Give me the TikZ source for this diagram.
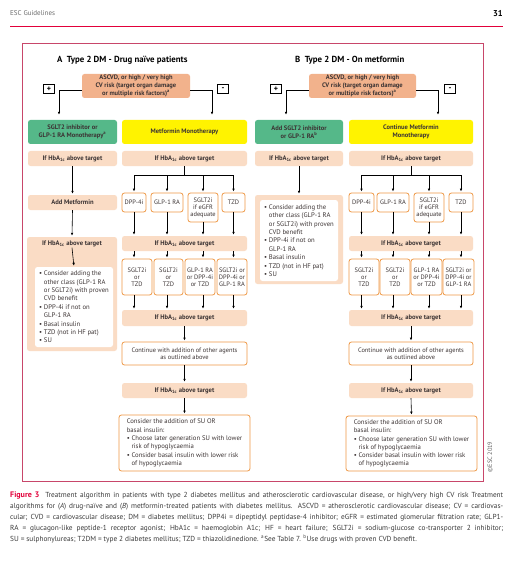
\documentclass[tikz,border=0pt]{standalone}
\usepackage{fontspec}
\setmainfont{PT Sans}
\usetikzlibrary{arrows.meta,calc}
\definecolor{peach}{HTML}{FADCC5}
\definecolor{salmon}{HTML}{F2B28C}
\definecolor{grn}{HTML}{55B889}
\definecolor{ylw}{HTML}{FFF300}
\definecolor{orng}{HTML}{EE9845}
\definecolor{frame}{HTML}{C8466A}
\definecolor{crim}{HTML}{E2003A}
\definecolor{txt}{HTML}{3C3434}
\definecolor{capt}{HTML}{3A3A3A}
\newcommand\placebox[7]{\node[#2, minimum width={(#5-#3)*1pt}, minimum height={(#6-#4)*1pt}] (#1) at ({(#3+#5)/2},{(#4+#6)/2}) {#7};}
\newcommand\hba{If HbA\textsubscript{1c} above target}
\newcommand\ind{\hphantom{\textbullet\ }}
\begin{document}
\begin{tikzpicture}[x=1pt,y=-1pt,
  base/.style={inner sep=0.5pt, align=center, text=txt, font=\fontsize{6.4}{7.3}\selectfont},
  hb/.style={base, fill=peach, rounded corners=2.5pt, font=\fontsize{6.6}{7.3}\selectfont\bfseries},
  asc/.style={base, fill=salmon, rounded corners=2.5pt, font=\fontsize{6.5}{7.8}\selectfont\bfseries},
  gbox/.style={base, fill=grn, rounded corners=2.5pt, font=\fontsize{6.5}{7.6}\selectfont\bfseries},
  ybox/.style={base, fill=ylw, rounded corners=2.5pt, font=\fontsize{6.5}{7.6}\selectfont\bfseries},
  obox/.style={base, draw=orng, line width=0.8pt, fill=white, rounded corners=2.5pt, font=\fontsize{6.4}{6.9}\selectfont},
  lst/.style={base, align=left, fill=white, rounded corners=2.5pt, font=\fontsize{6.7}{8.4}\selectfont},
  pm/.style={draw=black, line width=0.7pt, fill=white, inner sep=0pt, minimum width=11pt, minimum height=9.5pt, font=\fontsize{8}{8}\selectfont\bfseries},
  arr/.style={-{Latex[length=3pt,width=2.6pt]}, line width=0.6pt, shorten >=1pt},
  ln/.style={line width=0.6pt}
]
\useasboundingbox[fill=white] (0,0) rectangle (525,580);
% header
\node[anchor=west, text=gray!85!black, font=\fontsize{7}{7}\selectfont, inner sep=0pt] (hdr) at (10,13.5) {ESC Guidelines};
\node[anchor=east, font=\fontsize{8.5}{9}\selectfont\bfseries, inner sep=0pt] (pg) at (503,13.5) {31};
\draw[crim, line width=0.7pt] (hdr.west |- 0,26) -- (pg.east |- 0,26);
% frame
\draw[frame, line width=0.9pt] (22,43) rectangle (483,481);
\node[rotate=90, text=gray!80!black, font=\fontsize{6.3}{6}\selectfont, inner sep=0pt] (cpr) at (490,457) {©ESC 2019};
% titles
\node[anchor=west, inner sep=0pt, font=\fontsize{8.8}{9}\selectfont\bfseries, text=black] (tA) at (57,60) {A\ \ Type 2 DM - Drug naïve patients};
\node[anchor=west, inner sep=0pt, font=\fontsize{8.8}{9}\selectfont\bfseries, text=black] (tB) at (295,60) {B\ \ Type 2 DM - On metformin};

% ================= Panel A =================
\placebox{ascA}{asc}{82}{74}{190}{98}{ASCVD, or high / very high\\CV risk (target organ damage\\or multiple risk factors)\textsuperscript{a}}
\node[pm] (plA) at (49,89) {+};
\node[pm] (miA) at (223,89) {-};
\placebox{gA}{gbox}{28}{120}{117}{144}{SGLT2 inhibitor or\\GLP-1 RA Monotherapy\textsuperscript{a}}
\placebox{yA}{ybox}{122}{120}{247}{144}{Metformin Monotherapy}
\coordinate (pa) at (59,90);
\coordinate (ma) at (212,90);
\draw[arr, shorten >=5pt] (ascA.west |- pa) -- (pa) -- (pa |- gA.north);
\draw[arr, shorten >=5pt] (ascA.east |- ma) -- (ma) -- (ma |- yA.north);
\placebox{hA1}{hb}{28}{151}{117}{166}{\hba}
\placebox{hA2}{hb}{122}{151}{247}{166}{\hba}
\placebox{amA}{hb}{28}{195}{117}{210}{Add Metformin}
\draw[arr] (hA1.south) -- (amA.north);
% big left box A
\placebox{bigA}{hb}{27}{237}{117}{351}{}
\node[hb, fill=none] (bhA) at (72,244) {\hba};
\placebox{lsA}{lst}{35}{267}{113}{347}{\textbullet\ Consider adding the\\\ind other class (GLP-1 RA\\\ind or SGLT2i) with proven\\\ind CVD benefit\\\textbullet\ DPP-4i if not on\\\ind GLP-1 RA\\\textbullet\ Basal insulin\\\textbullet\ TZD (not in HF pat)\\\textbullet\ SU}
\draw[arr] (amA.south) -- (bigA.north);
\draw[arr] (bhA.south) -- (lsA.north);
% branch A
\placebox{dA}{obox}{122}{193}{146}{212}{DPP-4i}
\placebox{glA}{obox}{151}{193}{183}{212}{GLP-1 RA}
\placebox{sA}{obox}{188}{193}{218}{222}{SGLT2i\\if eGFR\\adequate}
\placebox{tA2}{obox}{222}{193}{245}{212}{TZD}
\coordinate (brA) at (184.5,175);
\draw[ln] (hA2.south) -- (brA);
\draw[ln] (brA -| dA.north) -- (brA -| tA2.north);
\foreach \n in {dA,glA,sA,tA2} \draw[arr] (brA -| \n.north) -- (\n.north);
\placebox{hA3}{hb}{122}{236}{247}{251}{\hba}
\foreach \n in {dA,glA,sA,tA2} \draw[arr] (\n.south) -- (\n.south |- hA3.north);
\placebox{rA1}{obox}{122}{259}{152}{295}{SGLT2i\\or\\TZD}
\placebox{rA2}{obox}{154}{259}{183}{295}{SGLT2i\\or\\TZD}
\placebox{rA3}{obox}{185}{259}{215}{295}{GLP-1 RA\\or DPP-4i\\or TZD}
\placebox{rA4}{obox}{217}{259}{247}{295}{SGLT2i or\\DPP-4i or\\GLP-1 RA}
\placebox{hA4}{hb}{122}{310}{247}{326}{\hba}
\foreach \n/\r in {dA/rA1,glA/rA2,sA/rA3,tA2/rA4} {
  \draw[arr] (hA3.south -| \n) -- (\r.north -| \n);
  \draw[arr] (\r.south -| \n) -- (hA4.north -| \n);
}
\placebox{cA}{obox}{122}{342}{247}{365}{Continue with addition of other agents\\as outlined above}
\placebox{hA5}{hb}{122}{383}{247}{398}{\hba}
\placebox{fA}{obox}{119}{415}{250}{471}{\fontsize{6.7}{8.3}\selectfont\begin{tabular}{@{}l@{}}Consider the addition of SU OR\\basal insulin:\\\textbullet\ Choose later generation SU with lower\\\ind risk of hypoglycaemia\\\textbullet\ Consider basal insulin with lower risk\\\ind of hypoglycaemia\end{tabular}}
\draw[arr] (hA4.south) -- (cA.north);
\draw[arr] (cA.south) -- (hA5.north);
\draw[arr] (hA5.south) -- (fA.north);

% ================= Panel B =================
\placebox{ascB}{asc}{309}{74}{416}{98}{ASCVD, or high / very high\\CV risk (target organ damage\\or multiple risk factors)\textsuperscript{a}}
\node[pm] (plB) at (276,89) {+};
\node[pm] (miB) at (450,89) {-};
\placebox{gB}{gbox}{255}{120}{343}{144}{Add SGLT2 inhibitor\\or GLP-1 RA\textsuperscript{b}}
\placebox{yB}{ybox}{349}{120}{473}{144}{Continue Metformin\\Monotherapy}
\coordinate (pb) at (286,90);
\coordinate (mb) at (438,90);
\draw[arr, shorten >=5pt] (ascB.west |- pb) -- (pb) -- (pb |- gB.north);
\draw[arr, shorten >=5pt] (ascB.east |- mb) -- (mb) -- (mb |- yB.north);
\placebox{hB1}{hb}{255}{151}{343}{166}{\hba}
\placebox{hB2}{hb}{349}{151}{473}{166}{\hba}
\placebox{bigB}{hb}{255}{195}{343}{284}{}
\placebox{lsB}{lst}{260}{200}{338}{281}{\textbullet\ Consider adding the\\\ind other class (GLP-1 RA\\\ind or SGLT2i) with proven\\\ind CVD benefit\\\textbullet\ DPP-4i if not on\\\ind GLP-1 RA\\\textbullet\ Basal insulin\\\textbullet\ TZD (not in HF pat)\\\textbullet\ SU}
\draw[arr] (hB1.south) -- (bigB.north);
\placebox{dB}{obox}{349}{193}{374}{212}{DPP-4i}
\placebox{glB}{obox}{377}{193}{409}{212}{GLP-1 RA}
\placebox{sB}{obox}{414}{193}{444}{222}{SGLT2i\\if eGFR\\adequate}
\placebox{tB2}{obox}{449}{193}{473}{212}{TZD}
\coordinate (brB) at (411,175);
\draw[ln] (hB2.south) -- (brB);
\draw[ln] (brB -| dB.north) -- (brB -| tB2.north);
\foreach \n in {dB,glB,sB,tB2} \draw[arr] (brB -| \n.north) -- (\n.north);
\placebox{hB3}{hb}{349}{236}{473}{251}{\hba}
\foreach \n in {dB,glB,sB,tB2} \draw[arr] (\n.south) -- (\n.south |- hB3.north);
\placebox{rB1}{obox}{349}{259}{379}{295}{SGLT2i\\or\\TZD}
\placebox{rB2}{obox}{380}{259}{410}{295}{SGLT2i\\or\\TZD}
\placebox{rB3}{obox}{411}{259}{442}{295}{GLP-1 RA\\or DPP-4i\\or TZD}
\placebox{rB4}{obox}{443}{259}{474}{295}{SGLT2i or\\DPP-4i or\\GLP-1 RA}
\placebox{hB4}{hb}{349}{310}{473}{326}{\hba}
\foreach \n/\r in {dB/rB1,glB/rB2,sB/rB3,tB2/rB4} {
  \draw[arr] (hB3.south -| \n) -- (\r.north -| \n);
  \draw[arr] (\r.south -| \n) -- (hB4.north -| \n);
}
\placebox{cB}{obox}{349}{342}{473}{365}{Continue with addition of other agents\\as outlined above}
\placebox{hB5}{hb}{349}{383}{473}{398}{\hba}
\placebox{fB}{obox}{346}{416}{477}{471}{\fontsize{6.7}{8.3}\selectfont\begin{tabular}{@{}l@{}}Consider the addition of SU OR\\basal insulin:\\\textbullet\ Choose later generation SU with lower\\\ind risk of hypoglycaemia\\\textbullet\ Consider basal insulin with lower risk\\\ind of hypoglycaemia\end{tabular}}
\draw[arr] (hB4.south) -- (cB.north);
\draw[arr] (cB.south) -- (hB5.north);
\draw[arr] (hB5.south) -- (fB.north);

% ================= Caption =================
\begin{scope}[every node/.style={anchor=base west, inner sep=0pt, text=capt, font=\fontsize{7.3}{7.5}\selectfont}]
\node (c1) at (10,497.5) {\makebox[493pt][s]{\textcolor{crim}{\bfseries\fontsize{8}{8}\selectfont Figure 3}\ \ Treatment algorithm in patients with type 2 diabetes mellitus and atherosclerotic cardiovascular disease, or high/very high CV risk Treatment}};
\node (c2) at (10,508.5) {\makebox[493pt][s]{algorithms for (\textit{A}) drug-naïve and (\textit{B}) metformin-treated patients with diabetes mellitus. ASCVD = atherosclerotic cardiovascular disease; CV = cardiovas-}};
\node (c3) at (10,519.5) {\makebox[493pt][s]{cular; CVD = cardiovascular disease; DM = diabetes mellitus; DPP4i = dipeptidyl peptidase-4 inhibitor; eGFR = estimated glomerular filtration rate; GLP1-}};
\node (c4) at (10,530.5) {\makebox[493pt][s]{RA = glucagon-like peptide-1 receptor agonist; HbA1c = haemoglobin A1c; HF = heart failure; SGLT2i = sodium-glucose co-transporter 2 inhibitor;}};
\node (c5) at (10,541.5) {SU = sulphonylureas; T2DM = type 2 diabetes mellitus; TZD = thiazolidinedione. \textsuperscript{a}See Table 7. \textsuperscript{b}Use drugs with proven CVD benefit.};
\end{scope}
\end{tikzpicture}
\end{document}
